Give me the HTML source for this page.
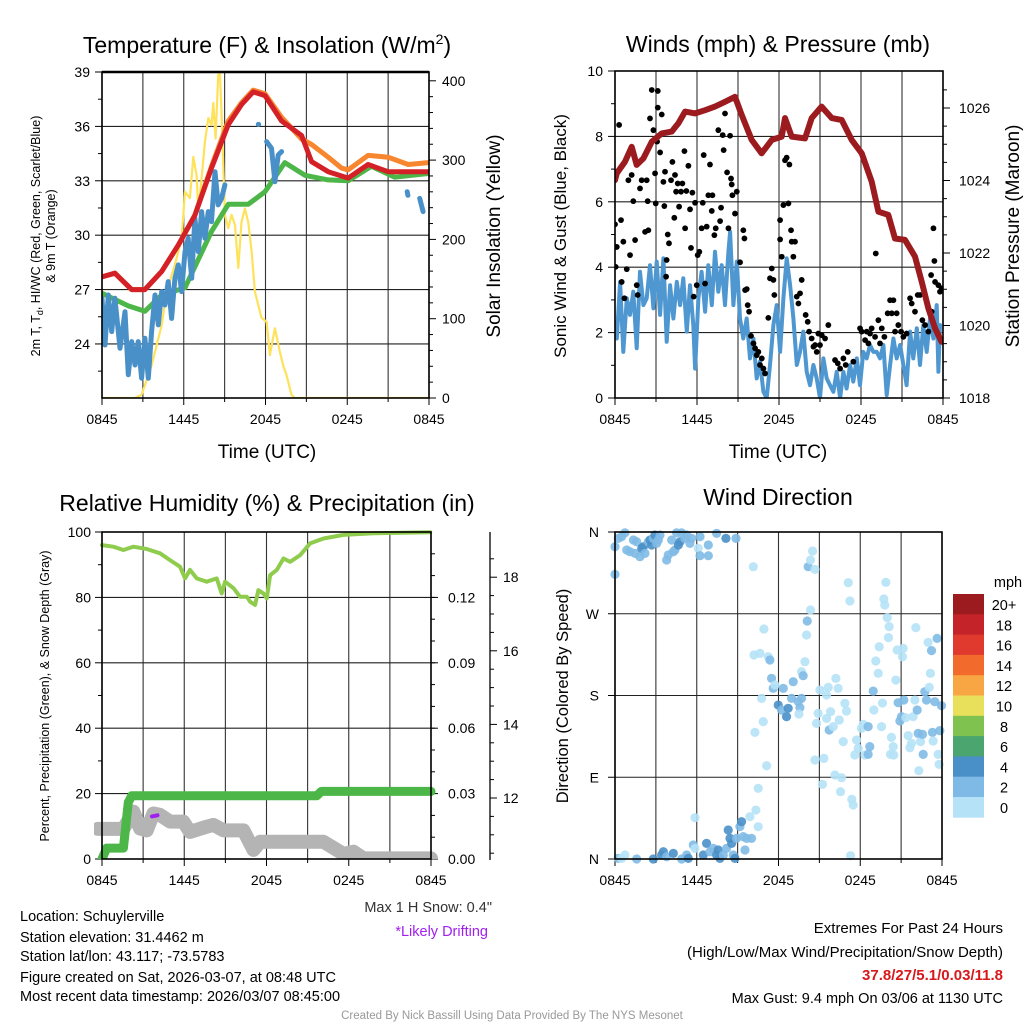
<!DOCTYPE html>
<html><head><meta charset="utf-8">
<style>
html,body{margin:0;padding:0;background:#fff;}
svg{display:block;font-family:"Liberation Sans",Arial,sans-serif;}
</style></head>
<body>
<svg id="s" width="1024" height="1024" viewBox="0 0 1024 1024">
<rect width="1024" height="1024" fill="#fff"/>
<g id="p1"></g>
<g id="p2"></g>
<g id="p3"></g>
<g id="p4"></g>
<g id="txt">
<text x="267" y="53" font-size="23" text-anchor="middle">Temperature (F) &amp; Insolation (W/m<tspan dy="-9" font-size="14">2</tspan><tspan dy="9">)</tspan></text>
<text x="778" y="52" font-size="23" text-anchor="middle">Winds (mph) &amp; Pressure (mb)</text>
<text x="267" y="511" font-size="23" text-anchor="middle">Relative Humidity (%) &amp; Precipitation (in)</text>
<text x="778" y="505" font-size="23" text-anchor="middle">Wind Direction</text>
<text x="267" y="458" font-size="19" text-anchor="middle">Time (UTC)</text>
<text x="778" y="458" font-size="19" text-anchor="middle">Time (UTC)</text>
<text transform="translate(40,236) rotate(-90)" font-size="12.5" text-anchor="middle">2m T, T<tspan dy="3" font-size="9">d</tspan><tspan dy="-3">, HI/WC (Red, Green, Scarlet/Blue)</tspan></text>
<text transform="translate(55,236) rotate(-90)" font-size="12.5" text-anchor="middle">&amp; 9m T (Orange)</text>
<text transform="translate(500,236) rotate(-90)" font-size="19" text-anchor="middle">Solar Insolation (Yellow)</text>
<text transform="translate(566,236) rotate(-90)" font-size="17" text-anchor="middle">Sonic Wind &amp; Gust (Blue, Black)</text>
<text transform="translate(1019,236) rotate(-90)" font-size="19" text-anchor="middle">Station Pressure (Maroon)</text>
<text transform="translate(49,696) rotate(-90)" font-size="12.5" text-anchor="middle">Percent, Precipitation (Green), &amp; Snow Depth (Gray)</text>
<text transform="translate(568,696) rotate(-90)" font-size="16.5" text-anchor="middle">Direction (Colored By Speed)</text>
<text x="492" y="912" font-size="14.5" text-anchor="end" fill="#333">Max 1 H Snow: 0.4"</text>
<text x="488" y="936" font-size="14.5" text-anchor="end" fill="#a020f0">*Likely Drifting</text>
<g font-size="14.5">
<text x="20" y="921">Location: Schuylerville</text>
<text x="20" y="942">Station elevation: 31.4462 m</text>
<text x="20" y="961">Station lat/lon: 43.117; -73.5783</text>
<text x="20" y="982">Figure created on Sat, 2026-03-07, at 08:48 UTC</text>
<text x="20" y="1001">Most recent data timestamp: 2026/03/07 08:45:00</text>
</g>
<g font-size="15" text-anchor="end">
<text x="1003" y="933">Extremes For Past 24 Hours</text>
<text x="1003" y="957">(High/Low/Max Wind/Precipitation/Snow Depth)</text>
<text x="1003" y="980" font-weight="bold" fill="#d7191c">37.8/27/5.1/0.03/11.8</text>
<text x="1003" y="1003" font-size="14.5">Max Gust: 9.4 mph On 03/06 at 1130 UTC</text>
</g>
<text x="512" y="1019" font-size="11.5" fill="#999" text-anchor="middle">Created By Nick Bassill Using Data Provided By The NYS Mesonet</text>
</g>
</svg>
<script>
// ---- Panel 1 data (hours since 0845 UTC) ----
const redT=[0,0.95,2.18,3.15,4.38,5.6,6.82,8.04,9.27,10.24,11.1,11.96,13.18,14.65,15.38,16.6,18.07,19.53,21.0,23.94];
const redV=[27.7,27.9,27.0,27.0,28.0,29.45,31.1,33.7,36.1,37.2,37.9,37.7,36.3,35.5,34.05,33.5,33.15,33.9,33.5,33.5];
const orangeT=[0,0.95,2.18,3.15,4.38,5.6,6.82,8.04,9.27,10.24,11.1,11.96,13.18,14.65,15.38,16.6,17.58,18.07,19.53,21.0,22.47,23.94];
const orangeV=[27.7,27.9,27.0,27.0,28.0,29.45,31.1,33.8,36.3,37.3,38.0,37.8,36.5,35.3,35.0,34.3,33.7,33.6,34.4,34.3,33.9,34.0];
const greenT=[0,1.93,3.15,4.38,6.09,8.04,9.27,10.73,11.96,13.42,14.89,16.6,18.07,19.78,21.49,23.94];
const greenV=[26.8,26.1,25.8,26.7,27.1,30.2,31.7,31.7,32.4,34.0,33.3,33.05,33.0,33.8,33.2,33.4];
const blueT=[0,0.22,0.46,0.71,0.95,1.32,1.69,1.93,2.18,2.42,2.66,2.91,3.15,3.40,3.64,3.89,4.13,4.38,4.62,4.86,5.11,5.35,5.60,5.84,6.09,6.33,6.58,6.82,7.07,7.31,7.55,7.80,8.04,8.29,8.53,8.78,9.02,null,11.47,11.5,null,12.08,12.44,12.69,12.93,13.18,null,22.40,22.45,null,23.32,23.57];
const blueV=[26.52,23.94,26.70,24.68,26.52,23.76,25.78,22.30,24.13,22.84,24.13,22.11,24.31,22.11,24.68,26.70,25.05,26.89,26.15,27.44,25.41,27.62,28.36,26.89,29.09,29.83,27.62,30.93,29.09,31.30,29.83,31.30,30.75,33.50,31.67,32.03,32.77,null,36.11,36.11,null,35.16,34.79,32.95,34.42,34.61,null,32.4,32.2,null,32.03,31.30];
const solarT=[0,2.42,2.91,3.64,4.38,4.74,5.35,5.84,6.09,6.45,6.70,6.94,7.07,7.31,7.55,7.80,8.04,8.17,8.34,8.53,8.65,8.78,9.02,9.27,9.51,9.76,10.0,10.24,10.49,10.73,10.98,11.22,11.71,12.08,12.32,12.69,13.06,13.3,13.54,13.91,14.16,24];
const solarV=[0,0,4,41,92,134,168,201,260,252,304,281,235,277,323,353,344,372,327,407,411,357,231,214,231,218,164,222,239,222,185,134,101,96,54,88,58,41,29,4,0,0];
const p1LeftTicks=[24,27,30,33,36,39];
const p1RightTicks=[0,100,200,300,400];
const timeLabels=["0845","1445","2045","0245","0845"];
// ---- Panel 2 data ----
const windT=[0,0.13,0.37,0.61,0.86,1.10,1.34,1.59,1.83,2.08,2.32,2.56,2.81,3.05,3.30,3.54,3.78,4.03,4.27,4.52,4.76,5.00,5.25,5.49,5.73,5.86,6.10,6.34,6.59,6.83,7.08,7.32,7.56,7.81,8.05,8.30,8.42,8.66,8.91,9.15,9.39,9.64,9.88,10.13,10.37,10.61,10.86,11.10,11.34,11.59,11.83,12.08,12.32,12.56,12.81,13.05,13.30,13.54,13.78,14.03,14.27,14.52,14.76,15.00,15.25,15.49,15.73,15.98,16.22,16.47,16.71,16.95,17.20,17.44,17.69,17.93,18.17,18.42,18.66,18.91,19.15,19.39,19.64,19.88,20.13,20.37,20.61,20.86,21.10,21.34,21.59,21.83,22.08,22.32,22.56,22.81,23.05,23.30,23.54,23.66,23.78];
const windV=[2.33,1.82,3.55,1.41,3.05,2.54,3.25,1.52,3.86,2.84,3.05,4.06,2.74,4.17,2.54,4.27,1.72,3.45,2.43,3.55,2.84,3.66,2.03,3.45,2.23,0.90,3.05,3.86,2.64,4.06,2.84,4.47,3.25,4.06,2.84,4.47,5.08,2.84,4.17,2.43,1.82,2.43,1.21,1.82,0.60,1.11,0.19,0,1.01,2.23,2.84,1.41,3.05,4.27,3.45,2.43,1.01,1.41,2.03,0.80,0.39,1.01,0.60,0,1.21,0.60,0.39,0.19,0.80,0,0.80,0.29,1.01,0.50,1.21,0.39,1.41,1.21,1.62,1.41,1.41,1.21,1.62,0.09,1.01,1.82,1.21,1.62,1.01,0.39,2.03,1.21,2.13,1.01,2.23,1.41,2.43,1.82,2.84,0.80,2.23];
const gustT=[0,0.13,0.30,0.05,0.44,0.49,0.61,0.69,0.86,0.98,1.10,1.22,1.34,1.47,1.59,1.66,1.83,1.95,2.20,2.32,2.39,2.44,2.56,2.69,2.81,2.93,2.98,3.08,3.13,3.13,3.30,3.42,3.54,3.61,3.66,3.74,3.78,3.86,3.95,4.10,4.20,4.34,4.39,4.47,4.59,4.69,4.83,4.93,5.08,5.13,5.22,5.37,5.49,5.56,5.66,5.76,5.86,5.98,6.05,6.17,6.34,6.42,6.49,6.59,6.71,6.83,6.95,7.08,7.13,7.27,7.37,7.56,7.69,7.76,7.88,7.95,8.05,8.20,8.30,8.42,8.49,8.54,8.59,8.69,8.78,8.91,9.15,9.39,9.47,9.52,9.64,9.71,9.81,9.95,10.13,10.25,10.37,10.49,10.61,10.74,10.86,10.98,11.22,11.34,11.47,11.59,11.66,12.08,12.08,12.20,12.32,12.44,12.56,12.69,12.76,12.88,12.93,13.05,13.17,13.30,13.42,13.54,13.66,13.95,14.10,14.20,14.39,14.52,14.64,14.76,14.88,15.00,15.13,15.37,15.61,16.10,16.30,16.47,16.71,16.88,17.03,17.44,17.93,18.05,18.30,18.42,18.54,18.66,18.78,19.03,19.08,19.27,19.39,19.52,19.71,19.95,20.13,20.25,20.37,20.49,20.61,20.73,20.93,21.10,21.34,21.59,21.71,21.95,22.15,22.32,22.49,22.69,22.93,23.13,23.17,23.30,23.37,23.42,23.66,23.78,23.90];
const gustV=[5.31,4.62,8.35,4.01,5.44,3.55,4.78,3.05,3.94,6.66,4.37,6.82,6.02,4.83,3.45,3.15,6.41,6.66,5.08,6.66,6.02,5.13,8.55,9.42,8.19,6.87,5.95,7.84,9.39,8.88,7.51,8.67,6.61,5.87,6.92,3.71,4.22,5.00,4.73,6.66,7.22,5.51,6.82,6.31,6.56,5.85,6.31,6.56,7.55,5.19,6.33,7.10,5.77,4.59,6.28,3.10,5.97,3.45,4.37,4.47,5.19,5.97,7.43,3.50,5.24,6.20,7.14,5.72,6.20,4.98,5.19,8.19,5.41,5.82,8.04,7.58,8.70,6.90,5.19,8.02,6.71,6.53,6.20,9.16,5.64,6.31,4.15,5.13,4.88,3.30,3.33,2.84,2.64,1.90,1.67,1.52,1.31,1.41,1.01,1.21,0.90,0.75,2.45,3.66,3.96,3.61,3.15,5.44,4.85,4.32,5.90,7.27,7.35,5.95,7.14,5.13,4.78,4.32,4.78,3.10,2.89,3.20,3.61,2.54,2.33,2.03,1.82,1.57,1.62,1.41,1.97,1.62,1.92,1.82,2.23,1.16,1.06,0.90,1.21,1.01,1.41,1.11,2.13,2.03,1.77,2.03,1.67,1.97,2.13,1.87,4.42,2.38,1.67,2.13,1.87,2.59,2.99,2.59,2.99,2.03,2.59,2.23,2.03,1.87,1.97,3.05,2.89,2.64,3.15,3.15,2.38,2.23,2.03,3.76,2.64,5.19,4.19,3.55,3.45,3.25,3.35];
const presT=[0,0.13,0.73,1.22,1.59,2.08,2.69,3.42,4.15,4.64,5.13,5.86,6.59,7.32,8.05,8.78,9.27,10.00,10.73,11.47,12.20,12.44,12.93,13.90,14.39,15.12,15.86,16.59,17.32,18.05,18.78,19.27,20.00,20.49,21.22,21.95,22.44,22.93,23.42,23.90];
const presV=[1024.01,1024.2,1024.52,1024.93,1024.43,1024.61,1025.07,1025.30,1025.35,1025.58,1025.9,1025.85,1025.94,1026.04,1026.17,1026.31,1025.81,1025.12,1024.75,1025.12,1025.21,1025.72,1025.21,1025.16,1025.72,1026.04,1025.72,1025.67,1025.12,1024.75,1023.97,1023.14,1023.05,1022.4,1022.36,1021.9,1021.21,1020.47,1019.92,1019.55];
const p2LeftTicks=[0,2,4,6,8,10];
const p2RightTicks=[1018,1020,1022,1024,1026];
// ---- Panel 3 data ----
const rhT=[0,0.83,1.56,2.29,3.26,4.23,4.96,5.69,6.06,6.42,6.91,7.64,8.37,8.73,8.98,9.59,10.07,10.56,10.80,11.17,11.41,11.78,12.02,12.26,12.75,13.24,13.72,14.45,15.18,16.16,17.62,19.80,23.94];
const rhV=[96.0,95.5,94.5,95.5,94.8,93.5,91.4,89.4,85.8,88.4,85.8,84.8,85.8,81.2,84.8,82.8,80.2,80.2,78.7,77.7,82.2,81.2,79.7,86.8,88.4,91.9,90.9,92.9,96.5,98.0,99.1,99.6,99.9];
const precipT=[0,0.34,1.56,1.92,2.17,15.67,16.0,24];
const precipV=[0,0.005,0.005,0.026,0.029,0.029,0.031,0.031];
const snowT=[-0.3,1.56,2.29,2.78,3.26,3.75,4.23,4.96,5.93,6.42,7.64,8.13,8.86,10.32,11.05,11.54,16.16,17.13,17.62,18.35,19.08,24];
const snowV=[11.16,11.16,11.63,11.17,11.12,11.58,11.54,11.36,11.36,11.08,11.22,11.27,11.12,11.12,10.59,10.81,10.81,10.59,10.48,10.54,10.36,10.36];
const driftT=[3.65,4.05];
const driftV=[11.5,11.53];
const p3LeftTicks=[0,20,40,60,80,100];
const p3PrecipTicks=["0.00","0.03","0.06","0.09","0.12"];
const p3SnowTicks=[12,14,16,18];
// ---- Panel 4 data ----
const dirT=[0,0,0.24,0.49,0.73,0.86,1.10,1.35,1.47,1.59,1.83,1.96,2.08,2.20,2.45,2.57,2.69,2.81,2.93,3.06,3.18,3.30,3.79,3.91,4.16,4.28,4.40,4.52,4.65,4.77,4.89,5.13,5.26,5.50,5.62,6.11,6.24,6.24,6.85,6.85,7.46,8.14,8.88,
0.24,0.49,0.73,1.59,2.81,3.42,3.55,3.79,4.28,4.89,5.26,5.38,5.75,5.87,5.87,6.48,6.72,6.97,7.21,7.46,7.58,7.70,7.95,8.19,8.31,8.44,8.56,8.68,8.80,8.92,9.17,9.29,9.41,9.54,9.66,9.90,10.02,10.34,10.51,10.51,
10.15,10.93,10.20,10.64,11.25,11.37,10.76,10.88,10.27,11.13,11.49,11.61,11.74,11.98,12.35,12.23,12.59,12.71,12.96,13.08,13.45,13.57,13.69,13.50,13.69,13.81,13.94,14.06,14.11,14.35,14.18,14.35,14.50,14.67,14.67,14.79,14.91,15.04,15.23,15.33,15.53,15.53,15.65,15.72,15.82,16.02,16.14,16.21,16.38,16.46,16.55,16.63,16.75,16.87,16.99,17.12,17.24,17.29,17.38,17.48,17.60,17.73,17.85,18.09,18.22,18.34,18.58,18.58,18.70,18.95,19.00,19.14,19.32,19.39,19.56,19.63,19.73,19.80,19.88,19.98,20.12,20.07,20.22,20.29,20.42,20.46,20.61,20.71,20.78,20.91,21.03,21.10,21.15,21.20,21.35,21.52,21.64,21.76,21.88,22.01,22.08,22.18,22.25,22.30,22.42,22.57,22.62,22.74,22.86,22.98,23.06,23.15,23.23,23.30,23.35,23.47,23.64,23.72,23.79,23.84,23.96];
const dirV=[343.8,313.4,353.0,354.9,359,340.2,338.3,351.2,336.5,349.3,332.8,342.0,343.8,336.5,349.3,351.2,345.7,353.0,356.7,347.5,351.2,356.7,329.2,334.7,351.2,338.3,340.2,359,345.7,349.3,359,353.0,356.7,347.5,353.0,342.0,354.9,333.9,345.7,333.9,358.5,353.0,353.0,
0.7,0.7,4.4,0,0,4.4,8.0,2.5,6.2,0,4.4,0.7,15.4,11.7,45.5,4.4,17.2,8.0,11.7,4.4,9.9,0.7,4.4,11.7,31.9,22.7,17.2,4.4,0.7,22.7,35.6,41.1,24.6,9.9,22.7,46.6,22.7,53.9,35.6,77.8,
321.8,253.2,224.6,226.4,222.7,219.1,176.9,151.2,139.4,102.7,198.9,187.9,191.5,169.5,187.9,164.0,156.7,165.9,176.9,195.2,173.2,166.6,176.9,159.6,206.2,201.8,217.2,246.6,262.0,274.1,321.8,329.2,339.1,318.9,109.0,149.3,160.3,186.0,82.2,110.8,154.8,180.5,189.0,142.0,162.2,145.7,92.5,198.9,187.9,153.0,74.1,89.5,129.2,171.4,162.9,304.2,284.0,3.6,65.7,59.4,114.5,131.0,121.8,143.8,148.2,114.5,115.2,145.7,123.7,184.9,164.0,218.0,204.4,233.7,145.7,171.7,286.2,279.6,304.6,265.7,255.8,243.7,115.2,133.9,123.7,114.5,197.0,230.1,172.1,151.9,156.7,222.7,231.9,175.0,155.6,135.8,122.5,127.3,156.7,175.0,254.7,164.0,138.3,97.2,129.2,137.2,115.2,184.2,175.0,238.5,189.0,204.4,229.4,139.4,129.9,173.2,242.9,115.2,104.2,141.3,168.8];
const dirSpd=[3,3,3,3,3,3,3,3,3,3,3,5,5,3,3,5,5,3,5,3,3,3,3,3,3,3,3,3,5,5,3,3,3,3,3,1,3,3,3,3,3,5,3,
3,1,1,3,5,5,5,3,5,3,3,5,3,1,1,5,5,3,3,5,5,5,3,3,5,5,5,3,5,3,3,5,3,3,3,1,3,1,1,1,
1,1,1,1,1,3,1,1,1,1,3,3,1,5,3,3,5,5,3,3,3,3,3,1,1,3,1,1,3,1,3,1,1,1,1,1,1,1,1,1,1,1,1,3,1,1,1,1,1,1,1,1,1,1,1,1,1,1,1,1,1,1,1,1,1,1,3,3,3,3,1,1,1,1,1,1,1,1,1,1,1,1,1,1,1,1,1,1,3,3,3,1,1,3,1,1,1,1,1,1,1,3,3,1,1,3,3,3,3,1,1,1,3,3,1,3,3,1,1,3,3,3,3];
const dirTicks=["N","E","S","W","N"];
const barLabels=["0","2","4","6","8","10","12","14","16","18","20+"];
const barColors=["#b5e2f7","#7fbae6","#4a90c8","#4aa66e","#7fc24f","#e8e05a","#f8a543","#f26a2c","#e03a2e","#c4232a","#9b1b1f"];

const NS="http://www.w3.org/2000/svg";
function mk(parent,tag,attrs){const e=document.createElementNS(NS,tag);for(const k in attrs)e.setAttribute(k,attrs[k]);parent.appendChild(e);return e;}
function txt(parent,x,y,s,anchor,size){const t=mk(parent,"text",{x:x,y:y,"text-anchor":anchor,"font-size":size||14});t.textContent=s;return t;}
function pathFrom(T,V,xf,yf){let d="",pen=false;for(let i=0;i<T.length;i++){if(T[i]===null||V[i]===null){pen=false;continue;}d+=(pen?"L":"M")+xf(T[i]).toFixed(1)+" "+yf(V[i]).toFixed(1)+" ";pen=true;}return d;}
function grid(g,x0,x1,y0,y1,ys){
  for(let i=0;i<=8;i++){const x=x0+(x1-x0)*i/8;mk(g,"line",{x1:x,x2:x,y1:y0,y2:y1,stroke:"#333","stroke-width":1.1});}
  ys.forEach(y=>mk(g,"line",{x1:x0,x2:x1,y1:y,y2:y,stroke:"#222","stroke-width":1.1}));
}
function frame(g,x0,x1,y0,y1){mk(g,"rect",{x:x0,y:y0,width:x1-x0,height:y1-y0,fill:"none",stroke:"#000","stroke-width":1.6});}
function xTicks(g,x0,x1,y1){for(let i=0;i<=8;i++){const x=x0+(x1-x0)*i/8;mk(g,"line",{x1:x,x2:x,y1:y1,y2:y1+(i%2?4:7),stroke:"#000","stroke-width":1});}
  timeLabels.forEach((s,i)=>{const t=txt(g,x0+(x1-x0)*i/4,y1+26,s,"middle",14);});}

// ---------- Panel 1 ----------
(function(){
const g=document.getElementById("p1");
const X0=102,X1=429,Y0=72,Y1=398;
const x=h=>X0+h*(X1-X0)/24, yT=t=>Y0+(39-t)*18.13, yS=w=>Y1-w*0.793;
grid(g,X0,X1,Y0,Y1,p1LeftTicks.map(yT));
p1LeftTicks.forEach(v=>{const y=yT(v);mk(g,"line",{x1:X0-7,x2:X0,y1:y,y2:y,stroke:"#000"});const t=txt(g,X0-12,y+5,String(v),"end",14);});
for(let v=22.5;v<39;v+=3){const y=yT(v);mk(g,"line",{x1:X0-4,x2:X0,y1:y,y2:y,stroke:"#000"});}
p1RightTicks.forEach(v=>{const y=yS(v);mk(g,"line",{x1:X1,x2:X1+7,y1:y,y2:y,stroke:"#000"});const t=txt(g,X1+13,y+5,String(v),"start",14);});
for(let v=20;v<410;v+=20){if(v%100){const y=yS(v);mk(g,"line",{x1:X1,x2:X1+4,y1:y,y2:y,stroke:"#000"});}}
xTicks(g,X0,X1,Y1);
const clip=mk(g,"clipPath",{id:"c1"});mk(clip,"rect",{x:X0,y:Y0-4,width:X1-X0,height:Y1-Y0+4});
const L=mk(g,"g",{"clip-path":"url(#c1)"});
let e;
e=mk(L,"path",{d:pathFrom(solarT,solarV,x,yS),fill:"none",stroke:"#fde25a","stroke-width":2.2,"stroke-linejoin":"round"});

e=mk(L,"path",{d:pathFrom(orangeT,orangeV,x,yT),fill:"none",stroke:"#f7862f","stroke-width":5,"stroke-linejoin":"round","stroke-linecap":"round"});

e=mk(L,"path",{d:pathFrom(greenT,greenV,x,yT),fill:"none",stroke:"#4cb648","stroke-width":5,"stroke-linejoin":"round","stroke-linecap":"round"});

e=mk(L,"path",{d:pathFrom(blueT,blueV,x,yT),fill:"none",stroke:"#4a90c8","stroke-width":5,"stroke-linejoin":"round","stroke-linecap":"round"});

e=mk(L,"path",{d:pathFrom(redT,redV,x,yT),fill:"none",stroke:"#d42027","stroke-width":5,"stroke-linejoin":"round","stroke-linecap":"round"});

frame(g,X0,X1,Y0,Y1);
mk(g,"line",{x1:X0,x2:X1,y1:Y0,y2:Y0,stroke:"#000","stroke-width":2.5});
})();

// ---------- Panel 2 ----------
(function(){
const g=document.getElementById("p2");
const X0=615,X1=943,Y0=71,Y1=398;
const x=h=>X0+h*(X1-X0)/24, yW=m=>Y1-m*32.7, yP=p=>Y1-(p-1018)*36.25;
grid(g,X0,X1,Y0,Y1,p2LeftTicks.map(yW));
p2LeftTicks.forEach(v=>{const y=yW(v);mk(g,"line",{x1:X0-7,x2:X0,y1:y,y2:y,stroke:"#000"});const t=txt(g,X0-12,y+5,String(v),"end",14);});
for(let v=1;v<10;v+=2){const y=yW(v);mk(g,"line",{x1:X0-4,x2:X0,y1:y,y2:y,stroke:"#000"});}
p2RightTicks.forEach(v=>{const y=yP(v);mk(g,"line",{x1:X1,x2:X1+7,y1:y,y2:y,stroke:"#000"});const t=txt(g,X1+16,y+5,String(v),"start",14);});
for(let v=1018.5;v<1027;v+=0.5){if(v%2){const y=yP(v);mk(g,"line",{x1:X1,x2:X1+4,y1:y,y2:y,stroke:"#000"});}}
xTicks(g,X0,X1,Y1);
const clip=mk(g,"clipPath",{id:"c2"});mk(clip,"rect",{x:X0,y:Y0,width:X1-X0,height:Y1-Y0});
const L=mk(g,"g",{"clip-path":"url(#c2)"});
let e=mk(L,"path",{d:pathFrom(windT,windV,x,yW),fill:"none",stroke:"#4f97d0","stroke-width":4,"stroke-linejoin":"round","stroke-linecap":"round"});

const gg=mk(L,"g",{});
gustT.forEach((t,i)=>{const c=mk(gg,"circle",{cx:x(t),cy:yW(gustV[i]),r:2.9,fill:"#000"});});
e=mk(L,"path",{d:pathFrom(presT,presV,x,yP),fill:"none",stroke:"#9b1b1f","stroke-width":6,"stroke-linejoin":"round","stroke-linecap":"round"});

frame(g,X0,X1,Y0,Y1);
})();

// ---------- Panel 3 ----------
(function(){
const g=document.getElementById("p3");
const X0=102,X1=431,Y0=532,Y1=859;
const x=h=>X0+h*(X1-X0)/24, yR=r=>Y1-r*3.27, yPr=p=>Y1-p/0.15*327, ySn=s=>798-(s-12)*36.8;
grid(g,X0,X1,Y0,Y1,p3LeftTicks.map(yR));
p3LeftTicks.forEach(v=>{const y=yR(v);mk(g,"line",{x1:X0-7,x2:X0,y1:y,y2:y,stroke:"#000"});const t=txt(g,X0-11,y+5,String(v),"end",14);});
for(let v=10;v<100;v+=20){const y=yR(v);mk(g,"line",{x1:X0-4,x2:X0,y1:y,y2:y,stroke:"#000"});}
p3PrecipTicks.forEach((s,i)=>{const y=yPr(i*0.03);mk(g,"line",{x1:X1,x2:X1+7,y1:y,y2:y,stroke:"#000"});const t=txt(g,X1+17,y+5,s,"start",14);});
for(let v=0.01;v<0.15;v+=0.01){const y=yPr(v);mk(g,"line",{x1:X1,x2:X1+4,y1:y,y2:y,stroke:"#000"});}
mk(g,"line",{x1:490,x2:490,y1:532,y2:860,stroke:"#000","stroke-width":1.3});
p3SnowTicks.forEach(v=>{const y=ySn(v);mk(g,"line",{x1:490,x2:497,y1:y,y2:y,stroke:"#000"});const t=txt(g,503,y+5,String(v),"start",14);});
for(let v=10.5;v<19;v+=0.5){if(v%2){const y=ySn(v);if(y>532&&y<860)mk(g,"line",{x1:490,x2:494,y1:y,y2:y,stroke:"#000"});}}
xTicks(g,X0,X1,Y1);
const clip=mk(g,"clipPath",{id:"c3"});mk(clip,"rect",{x:X0-8,y:Y0-6,width:X1-X0+16,height:Y1-Y0+6});
const L=mk(g,"g",{"clip-path":"url(#c3)"});
let e=mk(L,"path",{d:pathFrom(snowT,snowV,x,ySn),fill:"none",stroke:"#b4b4b4","stroke-width":14,"stroke-linejoin":"round","stroke-linecap":"round"});

e=mk(L,"path",{d:pathFrom(driftT,driftV,x,ySn),fill:"none",stroke:"#a020f0","stroke-width":4,"stroke-linecap":"round"});

e=mk(L,"path",{d:pathFrom(precipT,precipV,x,yPr),fill:"none",stroke:"#4cb648","stroke-width":9,"stroke-linejoin":"round","stroke-linecap":"round"});

e=mk(L,"path",{d:pathFrom(rhT,rhV,x,yR),fill:"none",stroke:"#8fcc4e","stroke-width":4,"stroke-linejoin":"round","stroke-linecap":"round"});

frame(g,X0,X1,Y0,Y1);
})();

// ---------- Panel 4 ----------
(function(){
const g=document.getElementById("p4");
const X0=615,X1=942,Y0=532,Y1=859;
const x=h=>X0+h*(X1-X0)/24, yD=d=>Y1-d*(Y1-Y0)/360;
grid(g,X0,X1,Y0,Y1,[90,180,270,360].map(yD));
dirTicks.forEach((s,i)=>{const y=yD(i*90);mk(g,"line",{x1:X0-7,x2:X0,y1:y,y2:y,stroke:"#000"});const t=txt(g,X0-16,y+5,s,"end",14);});
xTicks(g,X0,X1,Y1);
const colorFor=s=>barColors[Math.min(10,Math.floor(s/2))];
const pg=mk(g,"g",{});
dirT.forEach((t,i)=>{const c=mk(pg,"circle",{cx:x(t),cy:yD(dirV[i]),r:4.6,fill:colorFor(dirSpd[i]),"fill-opacity":0.9});});
frame(g,X0,X1,Y0,Y1);
const cb=mk(g,"g",{});
const bx=953,bw=31,top=594,bh=20.3;
for(let i=0;i<barColors.length;i++){const k=barColors.length-1-i;
  const r=mk(cb,"rect",{x:bx,y:top+i*bh,width:bw,height:bh+0.4,fill:barColors[k]});
  const t=txt(cb,1004,top+i*bh+16,barLabels[k],"middle",14.5);}
const m=txt(cb,1008,587,"mph","middle",14.5);
})();
</script>
</body></html>
